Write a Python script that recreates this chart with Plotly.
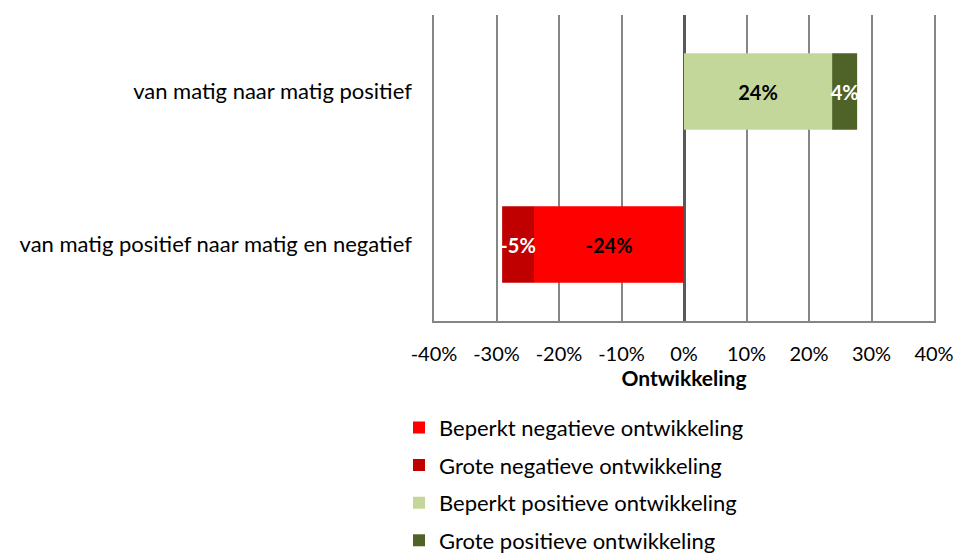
import plotly.graph_objects as go

categories = ['van matig positief naar matig en negatief', 'van matig naar matig positief']

beperkt_neg = [-0.24, None]
grote_neg = [-0.051, None]
beperkt_pos = [None, 0.237]
grote_pos = [None, 0.04]

tick_vals = [-0.4, -0.3, -0.2, -0.1, 0, 0.1, 0.2, 0.3, 0.4]
tick_text = ['-40%', '-30%', '-20%', '-10%', '0%', '10%', '20%', '30%', '40%']

series = [
    ('Beperkt negatieve ontwikkeling', beperkt_neg, '#FF0000', 'black'),
    ('Grote negatieve ontwikkeling', grote_neg, '#C00000', 'white'),
    ('Beperkt positieve ontwikkeling', beperkt_pos, '#C4D79B', 'black'),
    ('Grote positieve ontwikkeling', grote_pos, '#4F6228', 'white'),
]

font = 'Lato'

fig = go.Figure()
for i, (name, vals, col, tcol) in enumerate(series):
    fig.add_trace(go.Bar(
        y=categories, x=vals, name=name, orientation='h',
        marker=dict(color=col, line=dict(width=0)),
        texttemplate='<b>%{x:.0%}</b>', textposition='inside', textangle=0,
        insidetextanchor='middle', constraintext='none',
        textfont=dict(color=tcol, size=20, family=font),
        legendgroup='g%d' % i,
    ))

fig.update_layout(
    barmode='relative', bargap=0.5,
    width=956, height=553,
    margin=dict(l=434, r=22, t=15, b=232, autoexpand=False),
    plot_bgcolor='white', paper_bgcolor='white',
    font=dict(family=font, size=22, color='black'),
    legend=dict(x=-0.07, xanchor='left', y=-0.28, yanchor='top',
                traceorder='grouped', tracegroupgap=6,
                font=dict(size=22, family=font), itemwidth=30),
    showlegend=True,
)
fig.update_xaxes(
    range=[-0.4, 0.4], tickvals=tick_vals, ticktext=tick_text,
    showgrid=True, gridcolor='#868686', gridwidth=1.5,
    zeroline=True, zerolinecolor='#595959', zerolinewidth=3,
    showline=True, linecolor='#868686', linewidth=1.5,
    ticklabelstandoff=14, automargin=False, tickfont=dict(size=20),
    ticklabeloverflow='allow',
    title=dict(text='<b>Ontwikkeling</b>', standoff=7, font=dict(size=21)),
)
# left/right border lines stand in for the -40% and 40% gridlines
fig.update_yaxes(showgrid=False, ticklabelstandoff=16, automargin=False,
                 showline=True, mirror=True, linecolor='#868686', linewidth=1.5,
                 tickfont=dict(size=22))

# drop the default 8px body margin so the figure fills the window exactly
fig.write_html('out.html', config={'displayModeBar': False},
               post_script="document.body.style.margin='0';")
